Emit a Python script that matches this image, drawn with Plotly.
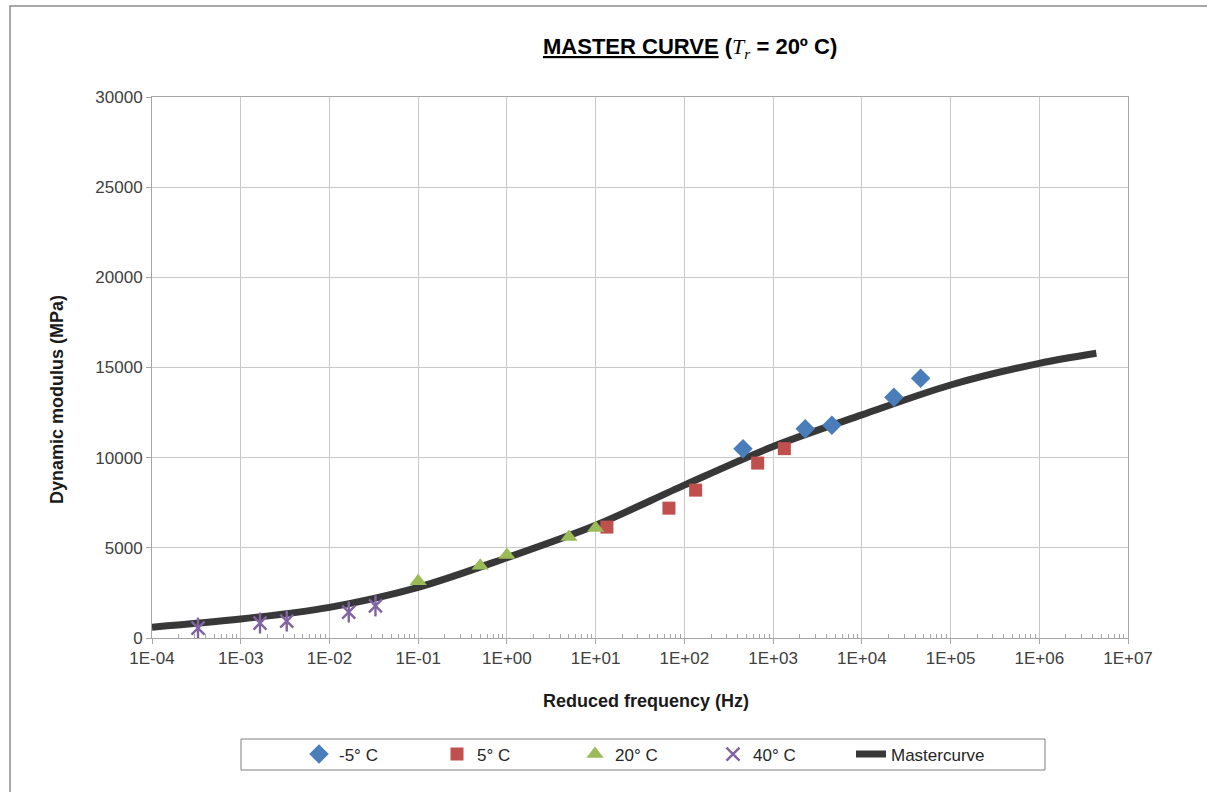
import plotly.graph_objects as go

# Measured dynamic modulus (MPa) shifted to reduced frequency (Hz), Tr = 20 °C
freq_m5 = [458, 2300, 4600, 23000, 46000]
mod_m5 = [10500, 11600, 11800, 13350, 14400]

freq_5 = [13.4, 67, 134, 670, 1340]
mod_5 = [6150, 7200, 8200, 9700, 10500]

freq_20 = [0.1, 0.5, 1.0, 5.0, 10.0]
mod_20 = [3150, 4000, 4600, 5600, 6100]

freq_40 = [3.3e-4, 1.65e-3, 3.3e-3, 1.65e-2, 3.3e-2]
mod_40 = [550, 830, 940, 1440, 1780]

# Fitted master curve
freq_mc = [1e-4, 1e-3, 1e-2, 1e-1, 1e0, 1e1, 1e2, 1e3, 1e4, 1e5, 1e6, 4.4e6]
mod_mc = [600, 1050, 1700, 2810, 4450, 6250, 8480, 10620, 12370, 14030, 15230, 15790]

# Axis ticks
x_tickvals = [10.0 ** k for k in range(-4, 8)]
x_ticktext = ["1E-04", "1E-03", "1E-02", "1E-01", "1E+00", "1E+01",
              "1E+02", "1E+03", "1E+04", "1E+05", "1E+06", "1E+07"]
x_minor = [m * 10.0 ** k for k in range(-4, 7) for m in range(2, 10)]

W, H = 1207, 792
L, R, T, B = 152, 79, 97, 154
pw, ph = W - L - R, H - T - B

def px(xpix):
    return (xpix - L) / pw

def py(ypix):
    return (H - B - ypix) / ph

FONT = "Arial, Liberation Sans, sans-serif"
NARROW = "Liberation Sans Narrow, Arial Narrow, Arial, sans-serif"
TXT = "#404040"
PURPLE = "#8064a2"

fig = go.Figure()

fig.add_trace(go.Scatter(
    x=freq_mc, y=mod_mc, mode="lines", name="Mastercurve",
    line=dict(color="#383838", width=7, shape="spline", smoothing=0.9),
    legendrank=5,
))
fig.add_trace(go.Scatter(
    x=freq_m5, y=mod_m5, mode="markers", name="-5° C",
    marker=dict(symbol="diamond", size=15, color="#4a7ebb"), legendrank=1,
))
fig.add_trace(go.Scatter(
    x=freq_5, y=mod_5, mode="markers", name="5° C",
    marker=dict(symbol="square", size=13, color="#c0504d"), legendrank=2,
))
fig.add_trace(go.Scatter(
    x=freq_20, y=mod_20, mode="markers", name="20° C",
    marker=dict(symbol="triangle-up", size=15, color="#9bbb59"), legendrank=3,
))
fig.add_trace(go.Scatter(
    x=freq_40, y=mod_40, mode="markers", name="40° C",
    marker=dict(symbol="x-thin-open", size=13, color=PURPLE,
                line=dict(color=PURPLE, width=2.4)), legendrank=4,
))
fig.add_trace(go.Scatter(
    x=freq_40, y=mod_40, mode="markers", showlegend=False, hoverinfo="skip",
    marker=dict(symbol="line-ns-open", size=15, color=PURPLE,
                line=dict(color=PURPLE, width=2.4)),
))

fig.update_layout(
    width=W, height=H,
    margin=dict(l=L, r=R, t=T, b=B, autoexpand=False),
    paper_bgcolor="white", plot_bgcolor="white",
    font=dict(family=FONT, color=TXT, size=14),
    showlegend=True,
    legend=dict(
        orientation="h", x=px(299), xanchor="left", y=py(754.5), yanchor="middle",
        borderwidth=0, bgcolor="rgba(0,0,0,0)",
        font=dict(family=NARROW, size=17, color="#262626"),
        entrywidth=93, itemwidth=30,
        traceorder="normal",
    ),
)

fig.update_xaxes(
    type="log", range=[-4, 7],
    tickmode="array", tickvals=x_tickvals, ticktext=x_ticktext,
    ticks="outside", ticklen=5, tickcolor="#a6a6a6",
    showgrid=True, gridcolor="#c8c8c8", gridwidth=1,
    showline=True, linecolor="#a6a6a6", linewidth=1, mirror=True,
    tickfont=dict(size=17, color=TXT),
    minor=dict(tickvals=x_minor, ticks="inside", ticklen=4,
               tickcolor="#a6a6a6", showgrid=False),
    zeroline=False,
)
fig.update_yaxes(
    range=[0, 30000], dtick=5000, tick0=0, tickformat="d",
    ticks="outside", ticklen=5, tickcolor="#a6a6a6",
    showgrid=True, gridcolor="#c8c8c8", gridwidth=1,
    showline=True, linecolor="#a6a6a6", linewidth=1, mirror=True,
    tickfont=dict(size=17, color=TXT),
    zeroline=False,
)

# Axis titles
fig.add_annotation(
    xref="paper", yref="paper", x=px(646), y=py(701),
    xanchor="center", yanchor="middle", showarrow=False,
    text="<b>Reduced frequency (Hz)</b>",
    font=dict(family=FONT, size=18, color="#1a1a1a"),
)
fig.add_annotation(
    xref="paper", yref="paper", x=px(57), y=py(400),
    xanchor="center", yanchor="middle", showarrow=False, textangle=-90,
    text="<b>Dynamic modulus (MPa)</b>",
    font=dict(family=FONT, size=18, color="#1a1a1a"),
)

# Title with underlined heading and italic reference temperature symbol
fig.add_annotation(
    xref="paper", yref="paper", x=px(690), y=py(48),
    xanchor="center", yanchor="middle", showarrow=False,
    text=("<b><u>MASTER CURVE</u> (</b>"
          "<span style='font-family:Times New Roman, Liberation Serif, serif'>"
          "<i>T<sub>r</sub></i></span><b> = 20º C)</b>"),
    font=dict(family=FONT, size=22, color="#000000"),
)

# Legend frame
fig.add_shape(
    type="rect", xref="paper", yref="paper",
    x0=px(241), x1=px(1045), y0=py(770), y1=py(739),
    line=dict(color="#7f7f7f", width=1), fillcolor="rgba(0,0,0,0)",
)

# Outer chart frame
fig.add_shape(
    type="rect", xref="paper", yref="paper",
    x0=px(10), x1=px(1230), y0=py(820), y1=py(6),
    line=dict(color="#8c8c8c", width=1.5), fillcolor="rgba(0,0,0,0)",
    layer="below",
)

fig.write_html("out.html")
